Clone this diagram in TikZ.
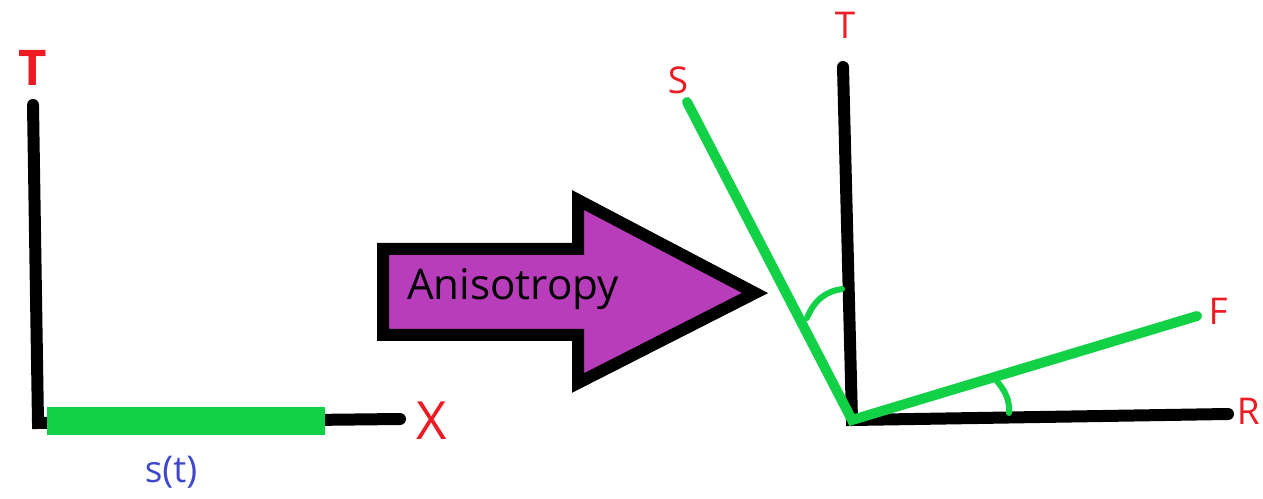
\documentclass[tikz,border=0pt]{standalone}
\usepackage{fontspec}
\setmainfont{Open Sans}
\usetikzlibrary{calc}
\definecolor{axisRed}{RGB}{237, 28, 36}
\definecolor{axisGreen}{RGB}{18, 209, 70}
\definecolor{axisBlue}{RGB}{63, 72, 204}
\definecolor{arrowPurple}{RGB}{184, 61, 186}
\begin{document}
\begin{tikzpicture}[
  x=0.02cm, y=-0.02cm,
  axis/.style={draw=black, line width=0.24cm, line cap=round},
  fibre/.style={draw=axisGreen, line width=0.2cm, line cap=round},
  hook/.style={draw=axisGreen, line width=0.12cm, line cap=round},
  lbl/.style={text=axisRed, inner sep=0pt, font=\fontsize{21}{25}\selectfont}
]
\useasboundingbox (0,0) rectangle (1263,499);
% isotropic frame
\coordinate (o1) at (38,423);
\coordinate (t1) at (33,105);
\coordinate (x1) at (400,419);
\coordinate (g1) at (47,421);
\coordinate (g2) at (325,421);
\draw[axis] (t1) -- (o1) -- (x1);
\draw[draw=axisGreen, line width=0.58cm] (g1) -- (g2);
\node[lbl, font=\fontsize{28}{32}\selectfont\bfseries] (tl) at (33,68) {T};
\node[lbl, font=\fontsize{30}{34}\selectfont] (xl) at (432,421) {X};
\node[text=axisBlue, font=\fontsize{21}{25}\selectfont] (st) at (171,472) {s(t)};
% arrow
\draw[line width=0.24cm, line join=miter, miter limit=4, fill=arrowPurple]
  (383,249) -- (578,249) -- (578,200) -- (755,293) -- (578,383)
  -- (578,335) -- (383,335) -- cycle;
\node[font=\fontsize{24}{28}\selectfont] (an) at (513,289) {Anisotropy};
% anisotropic frame
\coordinate (o2) at (852,420);
\coordinate (t2) at (843,67);
\coordinate (r2) at (1228,414);
\coordinate (s2) at (687,102);
\coordinate (f2) at (1197,316);
\draw[axis] (t2) -- (o2) -- (r2);
\draw[fibre] (s2) -- (o2) -- (f2);
\coordinate (a1) at (807,318);
\coordinate (a2) at (842,289);
\coordinate (b1) at (995,379);
\coordinate (b2) at (1009,413);
\draw[hook] (a1) .. controls (815,298) and (828,291) .. (a2);
\draw[hook] (b1) .. controls (1005,390) and (1010,400) .. (b2);
\node[lbl] (tr) at (845,25) {T};
\node[lbl] (sl) at (678,80) {S};
\node[lbl] (fl) at (1218,311) {F};
\node[lbl, anchor=east] (rl) at (1260,411) {R};
\end{tikzpicture}
\end{document}
